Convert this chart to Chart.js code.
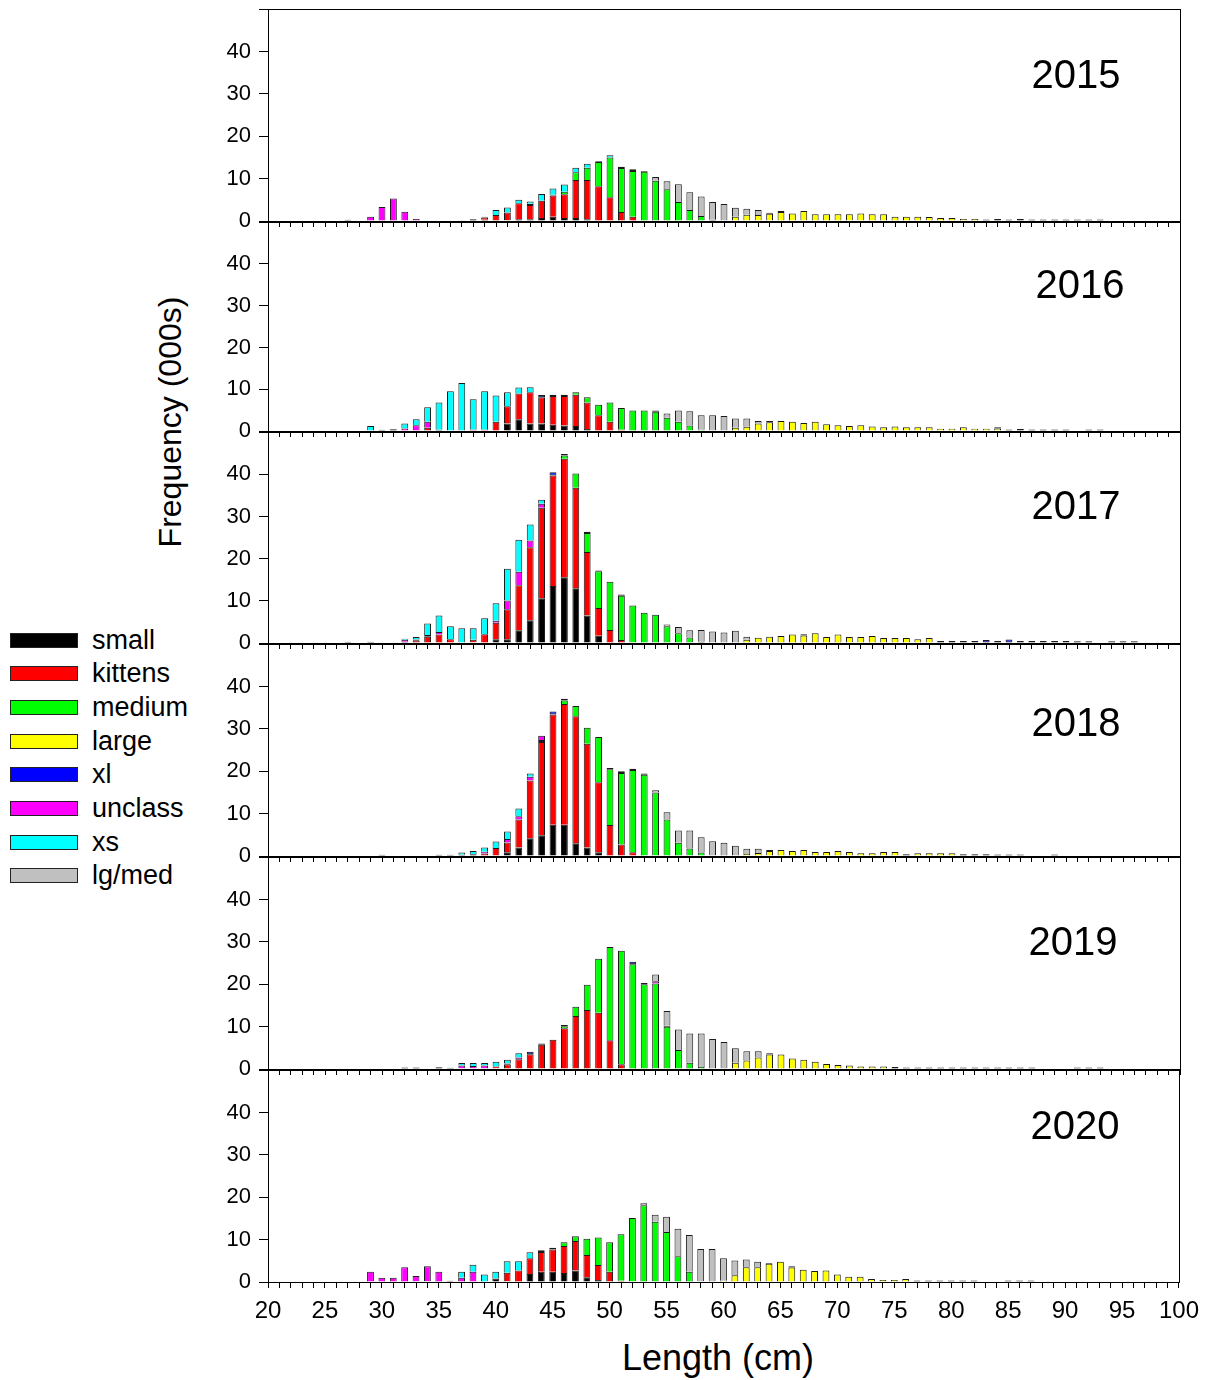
<!DOCTYPE html>
<html>
<head>
<meta charset="utf-8">
<script src="https://cdn.jsdelivr.net/npm/chart.js@4"></script>
<style>
  body { margin: 0; background: #fff; width: 1208px; height: 1380px; position: relative; overflow: hidden;
         font-family: "Liberation Sans", Arial, sans-serif; color: #000; }
  .panel { position: absolute; left: 200px; width: 1008px; }
  #ytitle { position: absolute; left: 170px; top: 422px; transform: translate(-50%, -50%) rotate(-90deg);
            white-space: nowrap; font-size: 32px; }
  #xtitle { position: absolute; left: 718px; top: 1358px; transform: translate(-50%, -50%);
            white-space: nowrap; font-size: 36px; }
  .lg { position: absolute; left: 10px; height: 30px; display: flex; align-items: center; font-size: 27px; white-space: nowrap; }
  .lg span { display: inline-block; width: 68px; height: 15px; border: 1px solid #222; box-sizing: border-box; margin-right: 14px; }
</style>
</head>
<body>
<div id="ytitle">Frequency (000s)</div>
<div id="xtitle">Length (cm)</div>
<script>
const years = ['2015', '2016', '2017', '2018', '2019', '2020'];
const categories = ['small', 'kittens', 'medium', 'large', 'xl', 'unclass', 'xs', 'lg/med'];
const xTickLabels = [20, 25, 30, 35, 40, 45, 50, 55, 60, 65, 70, 75, 80, 85, 90, 95, 100];
const yTickLabels = [0, 10, 20, 30, 40];

// each series: list of [first length (cm), values (000s) at successive 1 cm lengths]
// 2015
const small15   = [[27, [0.3]], [37, [0.2, 0.4, 0.3, 0.1, 0.2, 0.4, 0.4, 0.7, 1.0, 0.7, 0.7, 0.4]], [59, [0.3]]];
const kittens15 = [[39, [0.5, 1.3, 1.8, 3.8, 3.4, 4.1, 5.0, 5.6, 9.0, 9.3, 8.2, 5.6, 2.1, 1.0]]];
const medium15  = [[46, [0.6, 1.8, 2.9, 5.7, 9.4, 10.4, 10.8, 11.6, 9.5, 7.5, 4.5, 2.6, 1.2]]];
const large15   = [[61, [1.0, 1.5, 1.4, 1.7, 2.1, 1.8, 2.35, 1.6, 1.6, 1.6, 1.6, 1.8, 1.6, 1.6, 1.0, 1.0, 1.0, 0.95, 0.7, 0.7, 0.5, 0.5]]];
const xl15      = [[39, [0.2, 0, 0, 0, 0.3, 0, 0.2, 0, 0, 0, 0.2, 0, 0.3, 0.4, 0.2]], [64, [0.25, 0.25]],
                   [83, [0.35, 0.45, 0.35, 0.45, 0.35, 0.35, 0.35, 0.35, 0.35, 0.35, 0.35]]];
const unclass15 = [[29, [1.0, 3.3, 5.3, 2.2, 0.5]]];
const xs15      = [[40, [1.2, 1.2, 0.8, 0.5, 1.6, 1.5, 1.7, 1.1, 0.9, 0, 0.5]]];
const lgmed15   = [[54, [0.9, 1.9, 4.2, 4.2, 4.6, 4.2, 4.0, 2.1, 1.4, 1.2]]];
// 2016
const small16   = [[30, [0.3, 0.4, 0.1, 0, 0, 0.3]], [41, [1.8, 2.8, 1.8, 1.8, 1.5, 1.3, 1.2, 0.5]], [59, [0.2]]];
const kittens16 = [[34, [0.8, 0, 0, 0, 0.3, 0.3, 2.2, 4.1, 6.2, 7.5, 6.3, 6.9, 7.1, 7.5, 6.3, 3.8, 2.2, 0.3]]];
const medium16  = [[47, [0.6, 1.3, 2.5, 4.6, 5.2, 4.9, 4.9, 4.6, 3.2, 2.2, 1.3, 0.3]]];
const large16   = [[61, [0.8, 1.0, 1.8, 2.1, 2.4, 2.2, 1.9, 2.2, 1.6, 1.4, 1.2, 1.4, 1.1, 0.9, 1.1, 0.9, 0.9, 0.9, 0.55, 0.55, 0.9, 0.55, 0.55, 0.6]]];
const xl16      = [[44, [0.5, 0.3, 0.3]], [54, [0.3]], [64, [0.3]], [84, [0.3, 0.35, 0.45, 0.35, 0.35, 0.35, 0.35, 0, 0.35, 0.35]]];
const unclass16 = [[32, [0.5, 1.4, 1.4]]];
const xs16      = [[29, [1.2, 0, 0, 1.2, 1.4, 3.5, 6.5, 9.5, 11.5, 7.3, 9.2, 6.3, 3.4, 1.4, 1.2]]];
const lgmed16   = [[55, [1.0, 2.7, 3.4, 3.5, 3.6, 3.6, 2.2, 2.0, 0.6]]];
// 2017
const small17   = [[27, [0.3, 0, 0.3]], [32, [0.3]], [38, [0.2, 0, 0.9, 0.9, 3.0, 5.4, 10.6, 13.5, 15.6, 13.0, 6.5, 1.7, 0, 0, 0.2]], [58, [0.3]]];
const kittens17 = [[33, [0.55, 1.5, 2.0, 0.9, 0, 0.6, 2.1, 3.9, 7.1, 10.7, 17.3, 21.5, 26.2, 28.1, 23.8, 15.1, 6.6, 3.1, 0.7]]];
const medium17  = [[46, [0.8, 3.4, 4.5, 8.7, 11.4, 10.5, 8.7, 7.2, 6.7, 4.0, 2.3, 1.3]]];
const large17   = [[62, [0.8, 1.25, 1.5, 1.65, 2.0, 1.8, 2.3, 1.4, 2.0, 1.4, 1.4, 1.65, 1.2, 1.2, 1.2, 0.9, 1.2]]];
const xl17      = [[33, [0.3, 0.4]], [45, [0.8, 0.3, 0, 0.3, 0.2, 0, 0.3]], [67, [0.25]],
                   [79, [0.5, 0.5, 0.5, 0.5, 0.7, 0.5, 0.85, 0.5, 0.5, 0.5, 0.5, 0.5, 0.4, 0.4, 0, 0.4, 0.4, 0.4]]];
const unclass17 = [[32, [0.5, 0, 0, 0.6]], [40, [0.5, 2.1, 3.2, 1.6, 0.9]]];
const xs17      = [[32, [0.2, 0.6, 2.7, 3.9, 3.1, 3.5, 2.7, 3.8, 4.1, 7.5, 7.6, 3.8, 1.0]]];
const lgmed17   = [[55, [0.4, 1.5, 1.7, 2.8, 2.7, 2.5, 2.9, 0.7]]];
// 2018
const small18   = [[30, [0.3]], [35, [0.3, 0.3, 0.3, 0.4, 0, 0, 0.9, 2.0, 4.2, 4.9, 7.4, 7.4, 3.0, 2.0, 0.9]], [59, [0.2]]];
const kittens18 = [[39, [0.6, 1.9, 2.3, 6.6, 13.6, 22.0, 26.0, 28.5, 30.0, 24.5, 16.5, 7.3, 2.7, 0.9]]];
const medium18  = [[46, [0.8, 2.4, 3.8, 10.7, 13.2, 16.9, 19.4, 19.2, 15.0, 8.6, 3.1, 1.8, 0.8]]];
const large18   = [[62, [0.5, 0.7, 1.2, 1.4, 1.2, 1.4, 0.95, 0.95, 1.2, 0.95, 0.65, 0.65, 0.95, 0.95, 0, 0.65, 0.65, 0.65, 0.65]]];
const xl18      = [[44, [0.5, 0.7, 0.4, 0, 0, 0, 0.3, 0.4, 0.3, 0.3]], [64, [0.2]], [76, [0.4]], [81, [0.4, 0.4, 0.4, 0.35, 0.35, 0.35, 0, 0, 0.35]]];
const unclass18 = [[39, [0.4, 0, 0.8, 0.8, 0.9, 1.0]]];
const xs18      = [[37, [0.5, 0.8, 1.0, 1.5, 1.8, 1.8, 0.8]]];
const lgmed18   = [[54, [0.5, 1.7, 2.9, 4.2, 3.6, 3.3, 3.1, 2.4, 1.2, 1.0]]];
// 2019
const small19   = [[32, [0.35, 0.35, 0, 0.4, 0.3, 0.2, 0.2, 0.2, 0.2]], [60, [0.2]]];
const kittens19 = [[40, [0.4, 1.1, 2.3, 3.5, 5.7, 6.9, 9.6, 12.5, 13.9, 13.3, 6.8, 1.1]]];
const medium19  = [[46, [0.5, 2.2, 6.0, 12.7, 22.0, 26.8, 24.7, 20.0, 20.2, 10.0, 4.5, 1.5, 0.5]]];
const large19   = [[61, [1.5, 2.0, 2.7, 3.4, 3.4, 2.5, 2.2, 1.7, 1.2, 0.95, 0.85, 0.6, 0.6, 0.6]]];
const xl19      = [[41, [0.2, 0, 0.6, 0.3, 0, 0.3]], [52, [0.6, 0.3, 0, 0.2]], [64, [0.3]],
                   [75, [0.45, 0.35, 0.35, 0.35, 0.35, 0.35, 0.35, 0.35, 0.35, 0.35, 0.35, 0.35, 0.35]], [91, [0.35, 0.35, 0.35]]];
const unclass19 = [[37, [0.6, 0.5, 0.6, 0, 0, 0.4]], [54, [0.5]]];
const xs19      = [[37, [0.6, 0.7, 0.6, 1.1, 0.9, 1.0]]];
const lgmed19   = [[54, [1.6, 3.5, 4.8, 6.9, 7.9, 7.1, 6.2, 3.4, 2.2, 1.5]]];
// 2020
const small20   = [[36, [0.3, 0, 0, 0, 0.8, 0.2, 0.1, 1.9, 2.4, 2.4, 2.1, 2.7, 1.1, 0.5, 0, 0, 0.2]], [58, [0.2]]];
const kittens20 = [[41, [2.0, 2.6, 3.7, 4.7, 5.3, 6.4, 7.0, 5.3, 3.5, 2.4, 0.3]]];
const medium20  = [[46, [0.9, 1.1, 3.8, 6.5, 7.0, 11.0, 14.9, 18.1, 14.2, 11.8, 6.1, 2.4]]];
const large20   = [[60, [0.3, 1.6, 3.5, 3.5, 4.3, 4.8, 3.4, 2.9, 2.6, 2.7, 1.8, 1.25, 1.25, 0.7, 0.45, 0.45, 0.7]]];
const xl20      = [[33, [0.2, 0.2]], [44, [0.4, 0.4]], [64, [0.2, 0, 0.3]], [77, [0.35, 0.35, 0.35, 0.35, 0.35, 0.35, 0, 0, 0.35, 0.35, 0.35]]];
const unclass20 = [[29, [2.4, 1.0, 1.0, 3.5, 1.2, 3.5, 2.4, 0, 1.0, 2.4]]];
const xs20      = [[37, [1.4, 1.7, 1.8, 1.6, 2.7, 2.2, 1.4]]];
const lgmed20   = [[53, [0.5, 1.7, 3.6, 6.5, 8.7, 7.6, 7.8, 5.3, 3.5, 1.8, 1.3]]];

const seriesByYear = [
  [small15, kittens15, medium15, large15, xl15, unclass15, xs15, lgmed15],
  [small16, kittens16, medium16, large16, xl16, unclass16, xs16, lgmed16],
  [small17, kittens17, medium17, large17, xl17, unclass17, xs17, lgmed17],
  [small18, kittens18, medium18, large18, xl18, unclass18, xs18, lgmed18],
  [small19, kittens19, medium19, large19, xl19, unclass19, xs19, lgmed19],
  [small20, kittens20, medium20, large20, xl20, unclass20, xs20, lgmed20]
];

// layout / style
const colours = ['#000000', '#ff0000', '#00ff00', '#ffff00', '#0000ff', '#ff00ff', '#00ffff', '#c0c0c0'];
const panelTop = [8, 221, 431, 643, 856, 1069];
const panelBottom = [221, 431, 643, 856, 1069, 1282];
const yearPos = [[1076, 77], [1080, 287], [1076, 508], [1076, 725], [1073, 944], [1075, 1128]];
const padTop = 20;

function points(spans) {
  const out = [];
  spans.forEach(([from, vals]) => vals.forEach((v, i) => { if (v > 0) out.push({ x: from + i, y: v }); }));
  return out;
}

// legend
categories.forEach((c, k) => {
  const row = document.createElement('div');
  row.className = 'lg';
  row.style.top = (640 - 15 + k * 33.7) + 'px';
  row.innerHTML = '<span style="background:' + colours[k] + '"></span>' + c;
  document.body.appendChild(row);
});

Chart.defaults.font.family = '"Liberation Sans", Arial, sans-serif';
Chart.defaults.color = '#000';

const panelDecor = {
  id: 'panelDecor',
  afterDraw(chart, args, opts) {
    const { ctx, chartArea: a } = chart;
    ctx.save();
    ctx.strokeStyle = '#000';
    ctx.lineWidth = 1;
    ctx.strokeRect(Math.round(a.left) + 0.5, Math.round(a.top) + 0.5, Math.round(a.right - a.left), Math.round(a.bottom - a.top));
    ctx.font = '40px "Liberation Sans", Arial, sans-serif';
    ctx.fillStyle = '#000';
    ctx.textAlign = 'center';
    ctx.textBaseline = 'middle';
    ctx.fillText(opts.text, opts.x, opts.y);
    ctx.restore();
  }
};

years.forEach((yr, i) => {
  const last = i === years.length - 1;
  const xh = last ? 50 : 28;
  const top = panelTop[i] - padTop;
  const h = padTop + (panelBottom[i] - panelTop[i]) + xh;
  const wrap = document.createElement('div');
  wrap.className = 'panel';
  wrap.style.top = top + 'px';
  wrap.style.height = h + 'px';
  const cv = document.createElement('canvas');
  wrap.appendChild(cv);
  document.body.appendChild(wrap);

  new Chart(cv, {
    type: 'bar',
    data: {
      datasets: categories.map((c, k) => ({
        label: c,
        data: points(seriesByYear[i][k]),
        backgroundColor: colours[k],
        borderColor: '#1a1a1a',
        borderWidth: 1,
        // the thin xl caps read as dark dashes in the original
        borderSkipped: c === 'xl' ? false : 'start',
        barPercentage: 0.6,
        categoryPercentage: 1,
        stack: 'all'
      }))
    },
    plugins: [panelDecor],
    options: {
      animation: false,
      responsive: true,
      maintainAspectRatio: false,
      layout: { padding: { top: padTop, right: 28, left: 0, bottom: 0 } },
      plugins: {
        legend: { display: false },
        tooltip: { enabled: false },
        panelDecor: { text: yr, x: yearPos[i][0] - 200, y: yearPos[i][1] - top }
      },
      scales: {
        x: {
          type: 'linear', min: 20, max: 100, stacked: true, offset: false,
          grid: { offset: false, drawOnChartArea: false, tickLength: 6, color: '#000' },
          border: { color: '#000' },
          ticks: {
            stepSize: 1, autoSkip: false, maxRotation: 0, padding: 9, font: { size: 24 },
            callback: v => (last && xTickLabels.includes(v)) ? String(v) : ''
          },
          afterFit: s => { s.height = xh; }
        },
        y: {
          min: 0, max: 50, stacked: true,
          grid: { drawOnChartArea: false, tickLength: 9, color: '#000' },
          border: { color: '#000' },
          ticks: {
            stepSize: 10, padding: 8, font: { size: 22 },
            callback: v => yTickLabels.includes(v) ? String(v) : ''
          },
          afterFit: s => { s.width = 68; }
        }
      }
    }
  });
});
</script>
</body>
</html>
